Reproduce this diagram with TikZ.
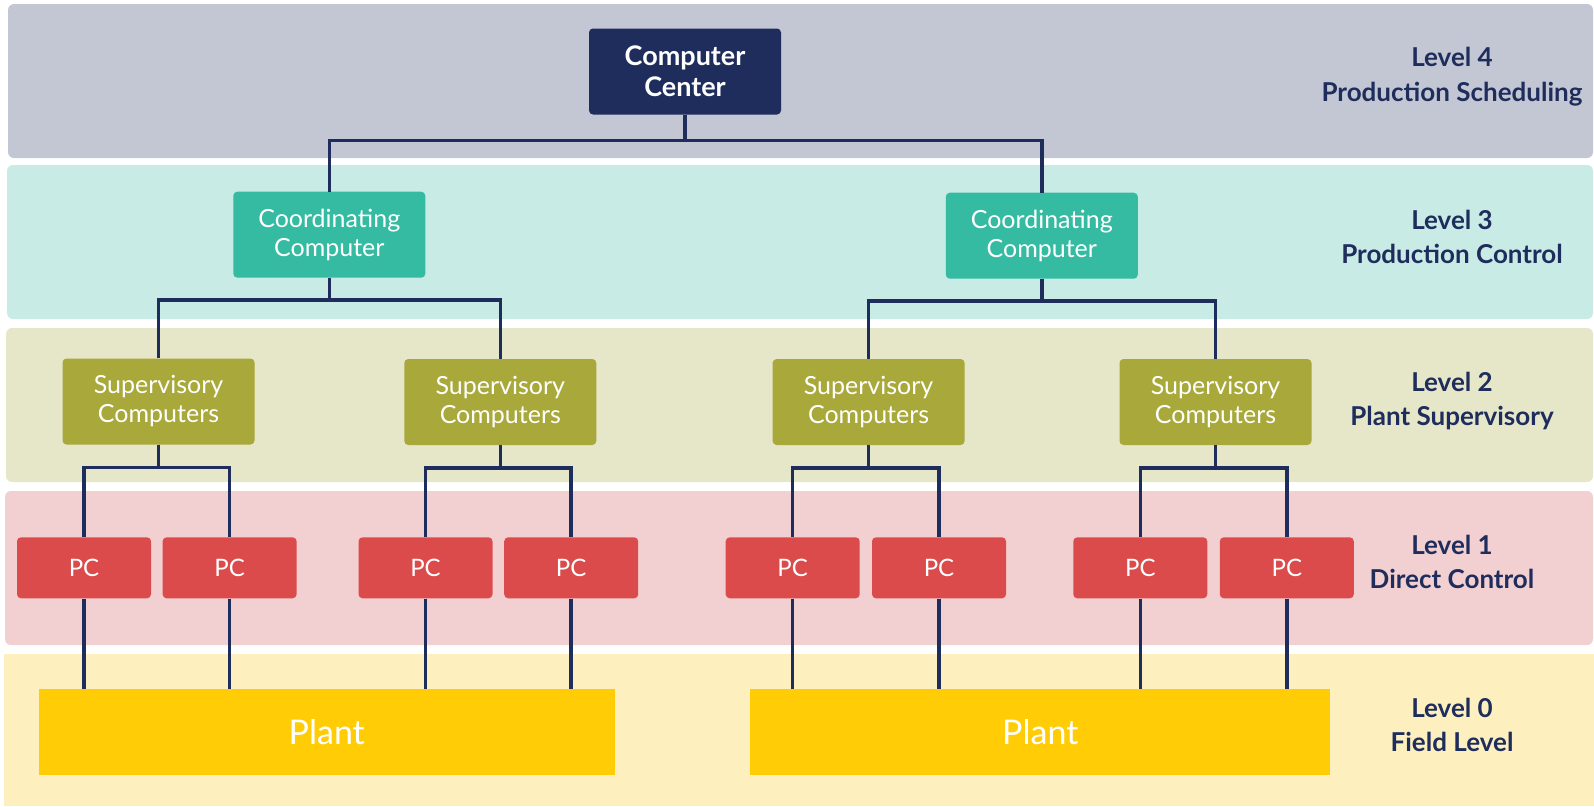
\documentclass[tikz,border=0pt]{standalone}
\usepackage{fontspec}
\setmainfont{Lato}
\usetikzlibrary{positioning}

\definecolor{navy}{HTML}{1F2D5C}
\definecolor{bandfour}{HTML}{C3C7D3}
\definecolor{bandthree}{HTML}{C8EBE5}
\definecolor{bandtwo}{HTML}{E6E7C9}
\definecolor{bandone}{HTML}{F2CFD0}
\definecolor{bandzero}{HTML}{FDF0BE}
\definecolor{coordgreen}{HTML}{36BBA3}
\definecolor{supolive}{HTML}{A9A83A}
\definecolor{pcred}{HTML}{DB4B4C}
\definecolor{plantyellow}{HTML}{FFCC05}

\begin{document}
\begin{tikzpicture}[x=1pt,y=-1pt,
  band/.style={rounded corners=6pt},
  box/.style={rounded corners=4pt,text=white,align=center,inner sep=0pt,
    minimum width=192pt,minimum height=86pt,font=\fontsize{25}{29}\selectfont},
  ccbox/.style={box,fill=navy,font=\bfseries\fontsize{27}{31}\selectfont},
  coordbox/.style={box,fill=coordgreen},
  supbox/.style={box,fill=supolive},
  pcbox/.style={box,fill=pcred,minimum width=134pt,minimum height=61pt,font=\fontsize{24}{28}\selectfont},
  plantbox/.style={box,rounded corners=0pt,fill=plantyellow,minimum height=86pt,font=\fontsize{34}{40}\selectfont},
  link/.style={navy,line width=3.5pt},
  lvl/.style={navy,align=center,font=\bfseries\fontsize{26}{34.5}\selectfont}]
  \useasboundingbox (0,0) rectangle (1594,806);

  % level bands
  \fill[band,bandfour]  (8,4) rectangle (1593,158);
  \fill[band,bandthree] (7,165) rectangle (1593,319);
  \fill[band,bandtwo]   (6,328) rectangle (1593,482);
  \fill[band,bandone]   (5,491) rectangle (1593,645);
  \fill[bandzero]       (4,654) rectangle (1594,806);

  % boxes
  \node[ccbox] (cc) at (685,71.5) {Computer\\Center};
  \node[coordbox] (c1) at (329.3,234.7) {Coordinating\\Computer};
  \node[coordbox] (c2) at (1041.8,235.7) {Coordinating\\Computer};
  \node[supbox] (s1) at (158.5,401.5) {Supervisory\\Computers};
  \node[supbox] (s2) at (500.3,402) {Supervisory\\Computers};
  \node[supbox] (s3) at (868.6,402) {Supervisory\\Computers};
  \node[supbox] (s4) at (1215.5,402) {Supervisory\\Computers};
  \node[pcbox] (p1) at (84,567.8) {PC};
  \node[pcbox] (p2) at (229.6,567.8) {PC};
  \node[pcbox] (p3) at (425.5,567.8) {PC};
  \node[pcbox] (p4) at (571.2,567.8) {PC};
  \node[pcbox] (p5) at (792.7,567.8) {PC};
  \node[pcbox] (p6) at (939,567.8) {PC};
  \node[pcbox] (p7) at (1140.3,567.8) {PC};
  \node[pcbox] (p8) at (1286.8,567.8) {PC};
  \node[plantbox,minimum width=576pt] (pl1) at (326.8,732.3) {Plant};
  \node[plantbox,minimum width=580pt] (pl2) at (1040.3,732.3) {Plant};

  % connectors
  \draw[link] (cc.south) -- ++(0,26) -| (c1.north);
  \draw[link] (cc.south) -- ++(0,26) -| (c2.north);
  \draw[link] (c1.south) -- ++(0,22) -| (s1.north);
  \draw[link] (c1.south) -- ++(0,22) -| (s2.north);
  \draw[link] (c2.south) -- ++(0,22) -| (s3.north);
  \draw[link] (c2.south) -- ++(0,22) -| (s4.north);
  \draw[link] (s1.south) -- ++(0,23) -| (p1.north);
  \draw[link] (s1.south) -- ++(0,23) -| (p2.north);
  \draw[link] (s2.south) -- ++(0,23) -| (p3.north);
  \draw[link] (s2.south) -- ++(0,23) -| (p4.north);
  \draw[link] (s3.south) -- ++(0,23) -| (p5.north);
  \draw[link] (s3.south) -- ++(0,23) -| (p6.north);
  \draw[link] (s4.south) -- ++(0,23) -| (p7.north);
  \draw[link] (s4.south) -- ++(0,23) -| (p8.north);
  \draw[link] (p1.south) -- (p1.south |- pl1.north);
  \draw[link] (p2.south) -- (p2.south |- pl1.north);
  \draw[link] (p3.south) -- (p3.south |- pl1.north);
  \draw[link] (p4.south) -- (p4.south |- pl1.north);
  \draw[link] (p5.south) -- (p5.south |- pl2.north);
  \draw[link] (p6.south) -- (p6.south |- pl2.north);
  \draw[link] (p7.south) -- (p7.south |- pl2.north);
  \draw[link] (p8.south) -- (p8.south |- pl2.north);

  % level labels
  \node[lvl] (l4) at (1452,76.7) {Level 4\\Production Scheduling};
  \node[lvl] (l3) at (1452,237) {Level 3\\Production Control};
  \node[lvl] (l2) at (1452,400.8) {Level 2\\Plant Supervisory};
  \node[lvl] (l1) at (1452,562) {Level 1\\Direct Control};
  \node[lvl] (l0) at (1452,725) {Level 0\\Field Level};
\end{tikzpicture}
\end{document}
